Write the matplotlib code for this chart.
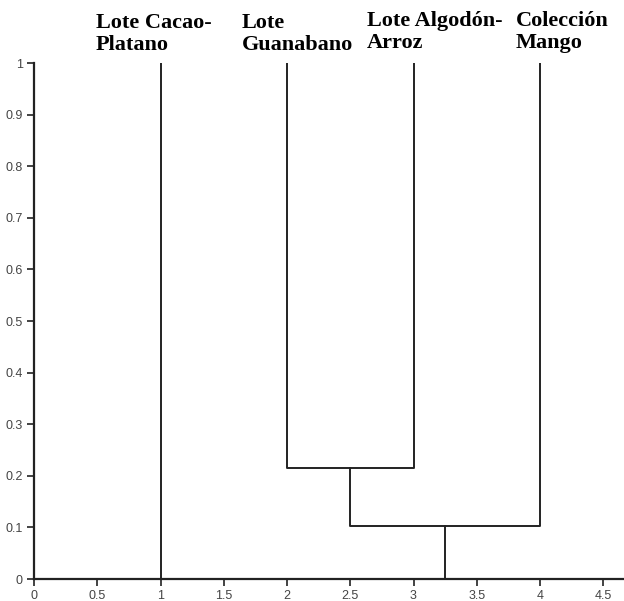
import matplotlib
matplotlib.use("Agg")
import matplotlib.pyplot as plt

leaf_names = ["Lote Cacao-\nPlatano", "Lote\nGuanabano", "Lote Algodón-\nArroz", "Colección\nMango"]
leaf_x = [1, 2, 3, 4]
leaf_top = 1.0
merge_23 = 0.215
merge_234 = 0.102
x_ticks = [0, 0.5, 1, 1.5, 2, 2.5, 3, 3.5, 4, 4.5]
y_ticks = [0, 0.1, 0.2, 0.3, 0.4, 0.5, 0.6, 0.7, 0.8, 0.9, 1]

W, H = 624, 601
fig = plt.figure(figsize=(W/100, H/100), dpi=100)
ax = fig.add_axes([34/W, 22/H, (W-34)/W, (579-63)/H])

lc = "#222222"
lw = 1.4
ax.plot([leaf_x[0], leaf_x[0]], [0, leaf_top], color=lc, lw=lw)
ax.plot([leaf_x[1], leaf_x[1], leaf_x[2], leaf_x[2]], [leaf_top, merge_23, merge_23, leaf_top], color=lc, lw=lw)
c23 = (leaf_x[1] + leaf_x[2]) / 2
ax.plot([c23, c23, leaf_x[3], leaf_x[3]], [merge_23, merge_234, merge_234, leaf_top], color=lc, lw=lw)
c234 = (c23 + leaf_x[3]) / 2
ax.plot([c234, c234], [merge_234, 0], color=lc, lw=lw)

ax.set_xlim(0, (W-34)/126.5)
ax.set_ylim(0, 1)
ax.set_xticks(x_ticks)
ax.set_xticklabels([f"{v:g}" for v in x_ticks])
ax.set_yticks(y_ticks)
ax.set_yticklabels([f"{v:g}" for v in y_ticks])
for s in ["top", "right"]:
    ax.spines[s].set_visible(False)
for s in ["left", "bottom"]:
    ax.spines[s].set_linewidth(1.6)
    ax.spines[s].set_color("#222222")
ax.tick_params(direction="out", length=5, width=1.2, color="#222222",
               labelsize=9, labelcolor="#444444", pad=3)
for t in ax.get_xticklabels() + ax.get_yticklabels():
    t.set_family("Liberation Sans")

label_px = [(96, 13), (242, 13), (367, 11), (516, 11)]
for name, (px, py) in zip(leaf_names, label_px):
    fig.text(px/W, 1 - py/H, name, ha="left", va="top", fontsize=16,
             fontweight="bold", family="Liberation Serif", linespacing=1.15)

fig.savefig("out.png", dpi=100)
